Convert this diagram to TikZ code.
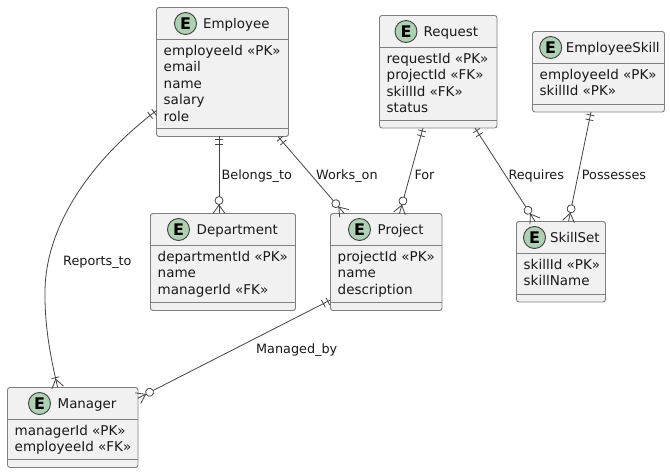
\documentclass[tikz,border=0pt]{standalone}
\usepackage{fontspec}
\setmainfont{DejaVu Sans}
\usetikzlibrary{decorations.markings}
\definecolor{boxfill}{HTML}{F1F1F1}
\definecolor{boxline}{HTML}{808080}
\definecolor{linkline}{HTML}{444444}
\definecolor{badge}{HTML}{ADD1B2}
\tikzset{
  entity/.style={draw=boxline,fill=boxfill,line width=0.9pt,rounded corners=2.5pt,anchor=north west,inner sep=0pt,outer sep=0pt},
  sepline/.style={draw=boxline,line width=0.9pt},
  titletext/.style={font=\fontsize{13.4}{16}\selectfont,anchor=base west,inner sep=0pt,text=black!90},
  attrtext/.style={font=\fontsize{13.5}{16.45}\selectfont,align=left,anchor=north west,inner sep=0pt,text=black!90,
    execute at begin node={\rule{0pt}{11pt}}},
  linktext/.style={font=\fontsize{12.8}{15}\selectfont,anchor=base west,inner sep=0pt,text=black!90},
  badgeE/.style={circle,draw=black!75,fill=badge,line width=0.9pt,minimum size=22pt,inner sep=0pt,
    font=\fontsize{16}{16}\bfseries\selectfont,text=black},
  link/.style={draw=linkline,line width=0.8pt},
  onestart/.style={postaction={decorate,decoration={markings,mark=at position 0 with {
    \draw[linkline,line width=0.8pt] (3pt,-4pt) -- (3pt,4pt) (8pt,-4pt) -- (8pt,4pt);}}}},
  zeromanyend/.style={postaction={decorate,decoration={markings,mark=at position 1 with {
    \draw[linkline,line width=0.8pt] (-8.5pt,0pt) -- (0pt,6pt) (-8.5pt,0pt) -- (0pt,-6pt);
    \draw[linkline,line width=0.8pt,fill=white] (-13pt,0pt) circle[radius=4pt];}}}},
  onemanyend/.style={postaction={decorate,decoration={markings,mark=at position 1 with {
    \draw[linkline,line width=0.8pt] (-8.5pt,0pt) -- (0pt,6pt) (-8.5pt,0pt) -- (0pt,-6pt);
    \draw[linkline,line width=0.8pt] (-10pt,-4pt) -- (-10pt,4pt);}}}},
}
\newcommand{\entitybox}[9]{%
  % name, x, y, w, h, badge dx, text dx, title, attrs
  \node[entity,minimum width=#4pt,minimum height=#5pt] (#1) at (#2,#3) {};
  \draw[sepline] ([yshift=-32pt]#1.north west) -- ([yshift=-32pt]#1.north east);
  \draw[sepline] ([yshift=8pt]#1.south west) -- ([yshift=8pt]#1.south east);
  \node[badgeE] (#1E) at ([xshift=#6pt,yshift=-16pt]#1.north west) {E};
  \node[titletext] (#1T) at ([xshift=#7pt,yshift=-21pt]#1.north west) {#8};
  \node[attrtext] (#1A) at ([xshift=7pt,yshift=-37.5pt]#1.north west) {#9};
}
\begin{document}
\begin{tikzpicture}[x=1pt,y=-1pt]
\useasboundingbox (0,0) rectangle (670,473);
\fill[white] (0,0) rectangle (670,473);
\entitybox{emp}{156.5}{7.5}{132}{129}{29}{46.5}{Employee}{employeeId «PK»\\email\\name\\salary\\role}
\entitybox{req}{379.5}{15.5}{117.5}{112.5}{26.5}{44}{Request}{requestId «PK»\\projectId «FK»\\skillId «FK»\\status}
\entitybox{esk}{532.5}{31.5}{132}{80.5}{18.2}{33.2}{EmployeeSkill}{employeeId «PK»\\skillId «PK»}
\entitybox{dep}{150.5}{213.5}{145}{97}{28}{46}{Department}{departmentId «PK»\\name\\managerId «FK»}
\entitybox{prj}{330.5}{213.5}{111.5}{97}{29}{47}{Project}{projectId «PK»\\name\\description}
\entitybox{skl}{516.5}{221.5}{89}{80.5}{18}{33.5}{SkillSet}{skillId «PK»\\skillName}
\entitybox{mgr}{7.5}{387.5}{130.5}{80}{32}{50}{Manager}{managerId «PK»\\employeeId «FK»}

\draw[link,onestart,onemanyend] (emp.west|-0,110.5) .. controls (85,165) and (46,230) .. (45,290) .. controls (44.5,325) and (50,355) .. ([xshift=50.2pt]mgr.north west);
\draw[link,onestart,zeromanyend] ([xshift=62.5pt]emp.south west) -- ([xshift=68.5pt]dep.north west);
\draw[link,onestart,zeromanyend] ([xshift=121.5pt]emp.south west) -- ([xshift=13.8pt]prj.north west);
\draw[link,onestart,zeromanyend] ([xshift=43.5pt]req.south west) -- ([xshift=69pt]prj.north west);
\draw[link,onestart,zeromanyend] ([xshift=95.5pt]req.south west) -- ([xshift=18.7pt]skl.north west);
\draw[link,onestart,zeromanyend] ([xshift=58.5pt]esk.south west) -- ([xshift=52pt]skl.north west);
\draw[link,onestart,zeromanyend] ([yshift=-86.5pt]prj.north west) -- ([yshift=-10.7pt]mgr.north east);

\node[linktext] (lb1) at (221.5,180) {Belongs\_to};
\node[linktext] (lb2) at (316,180) {Works\_on};
\node[linktext] (lb3) at (414.3,180) {For};
\node[linktext] (lb4) at (508.3,180) {Requires};
\node[linktext] (lb5) at (581.7,180) {Possesses};
\node[linktext] (lb6) at (63,266) {Reports\_to};
\node[linktext] (lb7) at (256,353.3) {Managed\_by};
\end{tikzpicture}
\end{document}
